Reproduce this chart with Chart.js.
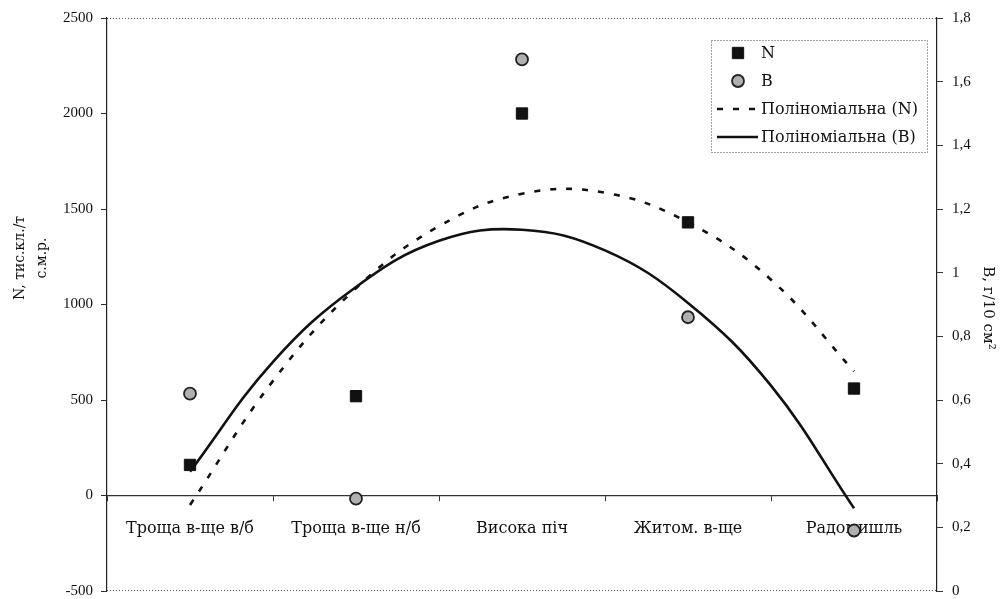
<!DOCTYPE html>
<html>
<head>
<meta charset="utf-8">
<script src="https://cdn.jsdelivr.net/npm/chart.js@4/dist/chart.umd.min.js"></script>
<style>
  html, body { margin: 0; padding: 0; background: #fff; overflow: hidden; }
  #wrap { width: 1006px; height: 609px; }
</style>
</head>
<body>
<div id="wrap"><canvas id="chart"></canvas></div>
<script>
const categories = ['Троща в-ще в/б', 'Троща в-ще н/б', 'Висока піч', 'Житом. в-ще', 'Радомишль'];
const nValues = [160, 520, 2000, 1430, 560];
const bValues = [0.62, 0.29, 1.67, 0.86, 0.19];

// trend curves at half-category steps
const trendPos = [0, 0.5, 1, 1.5, 2, 2.5, 3, 3.5, 4];
const trendN = [-50, 600, 1085, 1410, 1580, 1585, 1430, 1130, 650];
const trendB = [0.375, 0.72, 0.955, 1.10, 1.135, 1.07, 0.905, 0.645, 0.26];

const leftTitle = ['N, тис.кл./т', 'с.м.р.'];
const rightTitle = 'В, г/10 см²';

const serif = '"Liberation Serif", "DejaVu Serif", serif';
const wide = '"DejaVu Serif", "Liberation Serif", serif';
const ink = '#111';

// frame: dotted top/bottom of the plot, titles and legend box
const extras = {
  id: 'extras',
  beforeDatasetsDraw(chart) {
    const { ctx, chartArea: a } = chart;
    ctx.save();
    ctx.strokeStyle = '#555';
    ctx.lineWidth = 1;
    ctx.setLineDash([1, 2]);
    ctx.beginPath();
    ctx.moveTo(a.left, a.top + 0.5); ctx.lineTo(a.right, a.top + 0.5);
    ctx.moveTo(a.left, a.bottom - 0.5); ctx.lineTo(a.right, a.bottom - 0.5);
    ctx.stroke();
    ctx.restore();
  },
  afterDraw(chart) {
    const { ctx } = chart;
    ctx.save();
    ctx.fillStyle = ink;
    ctx.textAlign = 'center';
    ctx.textBaseline = 'middle';
    ctx.font = '14px ' + wide;
    // left title
    ctx.save();
    ctx.translate(20, 258);
    ctx.rotate(-Math.PI / 2);
    ctx.fillText(leftTitle[0], 0, 0);
    ctx.restore();
    ctx.save();
    ctx.translate(42, 258);
    ctx.rotate(-Math.PI / 2);
    ctx.fillText(leftTitle[1], 0, 0);
    ctx.restore();
    // right title
    ctx.save();
    ctx.translate(988, 308);
    ctx.rotate(Math.PI / 2);
    ctx.font = '15px ' + wide;
    ctx.fillText(rightTitle, 0, 0);
    ctx.restore();

    // legend
    const box = { x: 711, y: 40, w: 216, h: 112 };
    ctx.fillStyle = '#fff';
    ctx.fillRect(box.x, box.y, box.w, box.h);
    ctx.strokeStyle = '#444';
    ctx.lineWidth = 1;
    ctx.setLineDash([1, 2]);
    ctx.strokeRect(box.x + 0.5, box.y + 0.5, box.w, box.h);
    ctx.setLineDash([]);
    const ds = chart.data.datasets;
    const rows = [53, 81, 109, 137];
    ctx.font = '16px ' + wide;
    ctx.textAlign = 'left';
    ds.forEach((d, i) => {
      const y = rows[i];
      if (d.showLine === false) {
        ctx.fillStyle = d.backgroundColor;
        ctx.strokeStyle = d.borderColor;
        ctx.lineWidth = d.borderWidth;
        ctx.beginPath();
        if (d.pointStyle === 'rect') {
          const s = d.pointRadius * Math.SQRT1_2;
          ctx.rect(738 - s, y - s, 2 * s, 2 * s);
        } else {
          ctx.arc(738, y, d.pointRadius, 0, Math.PI * 2);
        }
        ctx.fill();
        ctx.stroke();
      } else {
        ctx.strokeStyle = d.borderColor;
        ctx.lineWidth = d.borderWidth;
        ctx.setLineDash(d.borderDash || []);
        ctx.beginPath();
        ctx.moveTo(717, y); ctx.lineTo(758, y);
        ctx.stroke();
        ctx.setLineDash([]);
      }
      ctx.fillStyle = ink;
      ctx.fillText(d.label, 761, y + 1);
    });
    ctx.restore();
  }
};

const commaFmt = v => String(+Number(v).toFixed(1)).replace('.', ',');

new Chart(document.getElementById('chart'), {
  type: 'line',
  data: {
    labels: categories,
    datasets: [
      {
        label: 'N', data: nValues, yAxisID: 'y', xAxisID: 'x',
        showLine: false, pointStyle: 'rect', pointRadius: 8, pointHoverRadius: 8,
        backgroundColor: '#111', borderColor: '#111', borderWidth: 1, order: 1
      },
      {
        label: 'B', data: bValues, yAxisID: 'y1', xAxisID: 'x',
        showLine: false, pointStyle: 'circle', pointRadius: 6, pointHoverRadius: 6,
        backgroundColor: '#b0b0b0', borderColor: '#222', borderWidth: 1.8, order: 0
      },
      {
        label: 'Поліноміальна (N)', yAxisID: 'y', xAxisID: 'x2',
        data: trendPos.map((p, i) => ({ x: p, y: trendN[i] })),
        borderColor: '#111', borderWidth: 2.6, borderDash: [6, 10],
        pointRadius: 0, tension: 0.4, fill: false, order: 3
      },
      {
        label: 'Поліноміальна (B)', yAxisID: 'y1', xAxisID: 'x2',
        data: trendPos.map((p, i) => ({ x: p, y: trendB[i] })),
        borderColor: '#111', borderWidth: 2.6,
        pointRadius: 0, tension: 0.4, fill: false, order: 2
      }
    ]
  },
  options: {
    responsive: true,
    maintainAspectRatio: false,
    animation: false,
    layout: { padding: { top: 18, bottom: 0, left: 0, right: 0 } },
    plugins: { legend: { display: false }, tooltip: { enabled: false } },
    scales: {
      x: {
        type: 'category',
        position: { y: 0 },
        offset: true,
        grid: { offset: true, drawOnChartArea: false, tickLength: 5, color: '#333' },
        border: { color: '#333', width: 1.2 },
        ticks: { color: ink, font: { family: wide, size: 16 }, padding: 19, maxRotation: 0, autoSkip: false }
      },
      x2: {
        type: 'linear', display: false, min: -0.5, max: 4.5
      },
      y: {
        position: 'left',
        min: -500, max: 2500,
        ticks: { stepSize: 500, color: ink, font: { family: serif, size: 15 }, padding: 8, callback: v => String(v) },
        grid: { drawOnChartArea: false, tickLength: 6, color: '#333' },
        border: { color: '#222', width: 1.2 },
        afterFit: s => { s.width = 107; }
      },
      y1: {
        position: 'right',
        min: 0, max: 1.8,
        ticks: { stepSize: 0.2, color: ink, font: { family: serif, size: 15 }, padding: 9, callback: commaFmt },
        grid: { drawOnChartArea: false, tickLength: 6, color: '#333' },
        border: { color: '#222', width: 1.2 },
        afterFit: s => { s.width = 69; }
      }
    }
  },
  plugins: [extras]
});
</script>
</body>
</html>
